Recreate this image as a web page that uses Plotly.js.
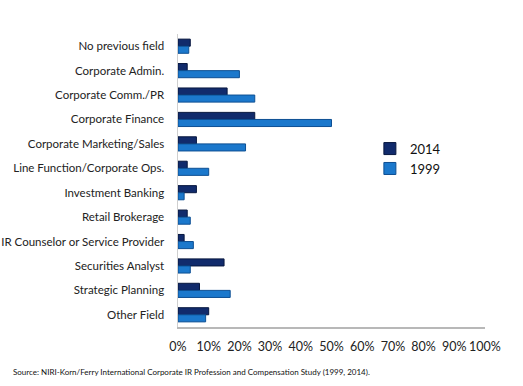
<!DOCTYPE html>
<html>
<head>
<meta charset="utf-8">
<script src="https://cdn.plot.ly/plotly-3.0.1.min.js"></script>
<style>html,body{margin:0;padding:0;background:#fff;}#chart{width:523px;height:386px;}</style>
</head>
<body>
<div id="chart"></div>
<script>
var categories = ["No previous field","Corporate Admin.","Corporate Comm./PR","Corporate Finance","Corporate Marketing/Sales","Line Function/Corporate Ops.","Investment Banking","Retail Brokerage","IR Counselor or Service Provider","Securities Analyst","Strategic Planning","Other Field"];
var values2014 = [0.04,0.03,0.16,0.25,0.06,0.03,0.06,0.03,0.02,0.15,0.07,0.10];
var values1999 = [0.035,0.20,0.25,0.50,0.22,0.10,0.02,0.04,0.05,0.04,0.17,0.09];
var xTicks = [0,0.1,0.2,0.3,0.4,0.5,0.6,0.7,0.8,0.9,1.0];
var xTickLabels = ["0%","10%","20%","30%","40%","50%","60%","70%","80%","90%","100%"];
var sourceText = "Source: NIRI-Korn/Ferry International Corporate IR Profession and Compensation Study (1999, 2014).";

var font = "Lato, 'Open Sans', sans-serif";
var data = [
  {type:'bar', orientation:'h', name:'2014', y:categories, x:values2014,
   marker:{color:'#112b6c', line:{color:'#07173f', width:1}}},
  {type:'bar', orientation:'h', name:'1999', y:categories, x:values1999,
   marker:{color:'#1b78cc', line:{color:'#0d4f93', width:1}}}
];
var layout = {
  width:523, height:386,
  margin:{l:178, r:38, t:34, b:59},
  paper_bgcolor:'#fff', plot_bgcolor:'#fff',
  barmode:'group', bargap:0.42, bargroupgap:0,
  font:{family:font, size:12, color:'#222'},
  showlegend:true,
  legend:{x:0.625, y:0.66, xanchor:'left', yanchor:'top', font:{size:13, color:'#111', family:font}, bgcolor:'rgba(0,0,0,0)', tracegroupgap:4, itemwidth:30},
  xaxis:{range:[0,1.0], tickvals:xTicks, ticktext:xTickLabels, showgrid:false, zeroline:false,
         showline:true, linecolor:'#b8b8b8', linewidth:1.5, ticks:'', ticklabelstandoff:7,
         tickfont:{size:12.5, color:'#222'}, fixedrange:true},
  yaxis:{autorange:'reversed', showgrid:false, zeroline:false, showline:true, linecolor:'#cfcfcf', linewidth:1.5,
         ticks:'', ticklabelstandoff:10, tickfont:{size:11.5, color:'#222'}, fixedrange:true},
  annotations:[{text:sourceText, xref:'paper', yref:'paper', x:-0.545, y:-0.13, xanchor:'left', yanchor:'top',
    showarrow:false, font:{size:8, color:'#111', family:font}}]
};
Plotly.newPlot('chart', data, layout, {displayModeBar:false, staticPlot:true});
</script>
</body>
</html>
